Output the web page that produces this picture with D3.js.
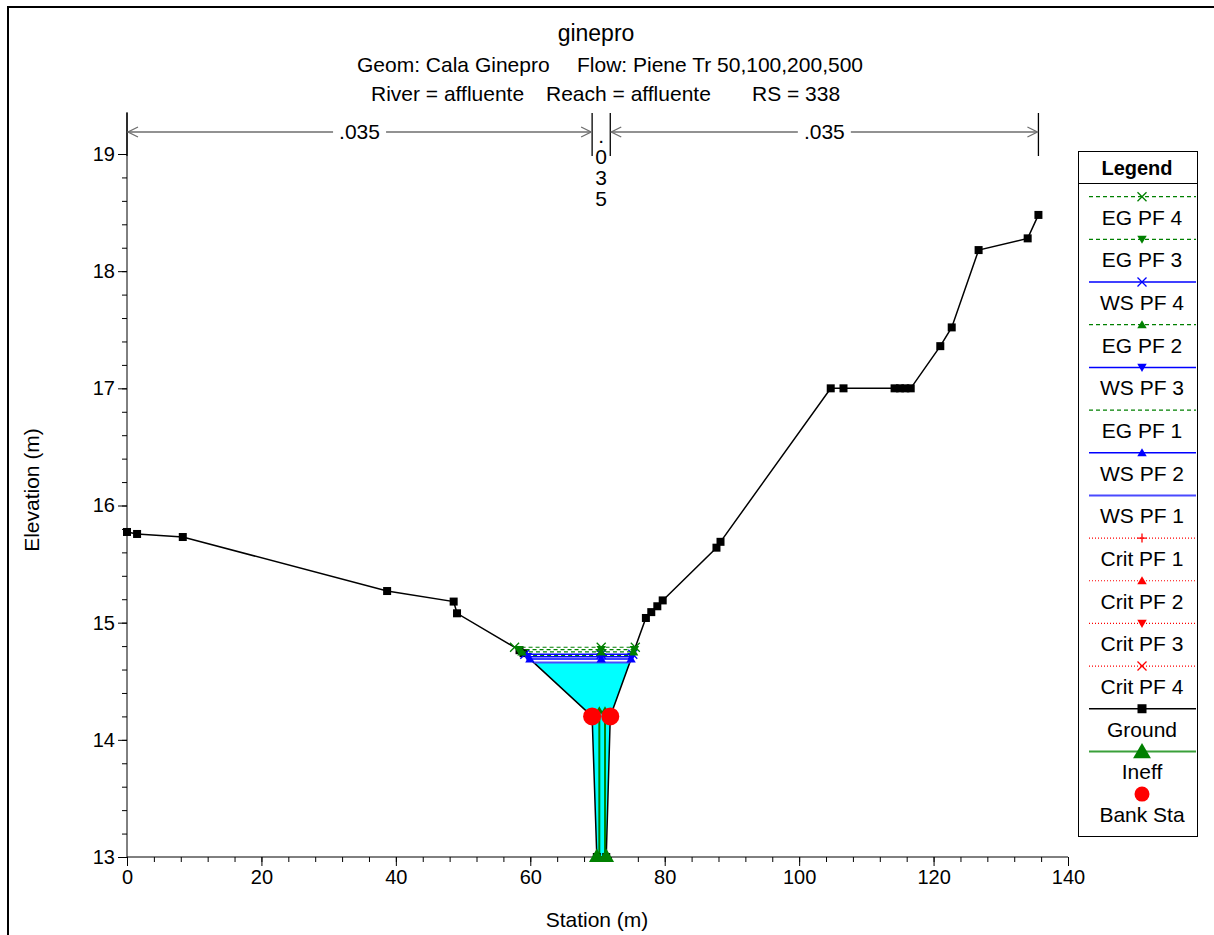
<!DOCTYPE html>
<html><head><meta charset="utf-8">
<script src="https://cdn.jsdelivr.net/npm/d3@7"></script>
<style>body{margin:0;background:#fff}svg{display:block}text{font-family:"Liberation Sans",Arial,sans-serif;fill:#000}</style>
</head><body><svg id="c" width="1214" height="935"></svg>
<script>
// ---------------- data ----------------
const groundSta  = [0, 1.5, 8.3, 38.7, 48.6, 49.1, 58.4, 59.0, 69.2, 69.9, 71.3, 71.9, 77.2, 78.0, 78.9, 79.7, 87.7, 88.3, 104.7, 106.6, 114.2, 115.0, 115.8, 116.6, 121.0, 122.7, 126.7, 134.0, 135.6];
const groundElev = [15.774, 15.757, 15.731, 15.27, 15.18, 15.08, 14.765, 14.74, 14.2, 13.0, 13.0, 14.2, 15.04, 15.09, 15.14, 15.19, 15.64, 15.69, 17.0, 17.0, 17.0, 17.0, 17.0, 17.0, 17.36, 17.52, 18.18, 18.28, 18.48];
const bankSta  = [69.2, 71.9];
const bankElev = [14.2, 14.2];
const profileNames = ["WS PF 1", "WS PF 2", "EG PF 1", "WS PF 3", "WS PF 4", "EG PF 2", "EG PF 3", "EG PF 4"];
const profileElev  = [14.66, 14.69, 14.72, 14.71, 14.73, 14.75, 14.77, 14.79];
const ineffSta  = [69.9, 71.3];
const ineffElev = [13.0, 13.0];
const ineffWallSta = [70.27, 71.12];
const ineffWallTop = [14.26, 14.26];
const nValueLabels = [".035", ".035", ".035"];
const nBreakSta = [0, 69.2, 71.9, 135.6];
const xTicks = [0, 20, 40, 60, 80, 100, 120, 140];
const yTicks = [13, 14, 15, 16, 17, 18, 19];
const legendNames = ["EG PF 4", "EG PF 3", "WS PF 4", "EG PF 2", "WS PF 3", "EG PF 1", "WS PF 2", "WS PF 1", "Crit PF 1", "Crit PF 2", "Crit PF 3", "Crit PF 4", "Ground", "Ineff", "Bank Sta"];
const titleText = "ginepro";
const subtitle1 = ["Geom: Cala Ginepro", "Flow: Piene Tr 50,100,200,500"];
const subtitle2 = ["River = affluente", "Reach = affluente", "RS = 338"];
const xLabel = "Station (m)";
const yLabel = "Elevation (m)";

// ---------------- styles ----------------
const GREEN = "#008000", BLUE = "#0000ff", RED = "#ff0000";
const styles = {
  "EG PF 4": {color: GREEN, dash: "4,3", w: 1.2, marker: "x"},
  "EG PF 3": {color: GREEN, dash: "4,3", w: 1.2, marker: "down"},
  "WS PF 4": {color: BLUE, dash: null, w: 1.5, marker: "x"},
  "EG PF 2": {color: GREEN, dash: "4,3", w: 1.2, marker: "up"},
  "WS PF 3": {color: BLUE, dash: null, w: 1.5, marker: "down"},
  "EG PF 1": {color: GREEN, dash: "4,3", w: 1.2, marker: null},
  "WS PF 2": {color: BLUE, dash: null, w: 1.5, marker: "up"},
  "WS PF 1": {color: "#4a4aff", dash: null, w: 2, marker: null},
  "Crit PF 1": {color: RED, dash: "1,2", w: 1.2, marker: "plus"},
  "Crit PF 2": {color: RED, dash: "1,2", w: 1.2, marker: "up"},
  "Crit PF 3": {color: RED, dash: "1,2", w: 1.2, marker: "down"},
  "Crit PF 4": {color: RED, dash: "1,2", w: 1.2, marker: "x"},
  "Ground": {color: "#000", dash: null, w: 1.5, marker: "square", mcolor: "#000"},
  "Ineff": {color: "#3aa03a", dash: null, w: 2, marker: "bigup", mcolor: GREEN},
  "Bank Sta": {color: null, marker: "circle", mcolor: RED}
};

const svg = d3.select("#c");
const FONT = 20, BIG = 21;
svg.append("rect").attr("width", 1214).attr("height", 935).attr("fill", "#fff");
svg.append("rect").attr("x", 8).attr("y", 7).attr("width", 1230).attr("height", 960)
   .attr("fill", "none").attr("stroke", "#000").attr("stroke-width", 2);

const x = d3.scaleLinear().domain([0, 140]).range([127, 1068]);
const y = d3.scaleLinear().domain([13, 19]).range([857, 154]);

function drawMarker(g, type, cx, cy, color, s) {
  if (!type) return;
  if (type === "x") {
    g.append("path").attr("d", `M${cx-s},${cy-s}L${cx+s},${cy+s}M${cx-s},${cy+s}L${cx+s},${cy-s}`)
      .attr("stroke", color).attr("stroke-width", 1.3).attr("fill", "none");
  } else if (type === "plus") {
    g.append("path").attr("d", `M${cx-s},${cy}L${cx+s},${cy}M${cx},${cy-s}L${cx},${cy+s}`)
      .attr("stroke", color).attr("stroke-width", 1.3).attr("fill", "none");
  } else if (type === "up" || type === "bigup") {
    g.append("path").attr("d", `M${cx},${cy-s}L${cx+s*1.05},${cy+s*0.8}L${cx-s*1.05},${cy+s*0.8}Z`).attr("fill", color);
  } else if (type === "down") {
    g.append("path").attr("d", `M${cx},${cy+s}L${cx+s*1.05},${cy-s*0.8}L${cx-s*1.05},${cy-s*0.8}Z`).attr("fill", color);
  } else if (type === "square") {
    g.append("rect").attr("x", cx-s).attr("y", cy-s).attr("width", 2*s).attr("height", 2*s).attr("fill", color);
  } else if (type === "circle") {
    g.append("circle").attr("cx", cx).attr("cy", cy).attr("r", s).attr("fill", color);
  }
}

// ---------------- titles ----------------
svg.append("text").attr("x", 596).attr("y", 41).attr("text-anchor", "middle").attr("font-size", 23).text(titleText);
const st1 = svg.append("text").attr("y", 72).attr("font-size", BIG);
st1.append("tspan").attr("x", 357).text(subtitle1[0]);
st1.append("tspan").attr("x", 577).text(subtitle1[1]);
const st2 = svg.append("text").attr("y", 101).attr("font-size", BIG);
st2.append("tspan").attr("x", 371).text(subtitle2[0]);
st2.append("tspan").attr("x", 546).text(subtitle2[1]);
st2.append("tspan").attr("x", 752).text(subtitle2[2]);

// ---------------- axes ----------------
const axG = svg.append("g");
const yMinor = d3.range(13, 19.001, 0.2);
const xMinor = d3.range(0, 140.001, 4);
axG.append("g").attr("transform", "translate(127,0)")
  .call(d3.axisLeft(y).tickValues(yMinor).tickSize(5).tickFormat(""))
  .call(g => g.select(".domain").remove());
axG.append("g").attr("transform", "translate(127,0)")
  .call(d3.axisLeft(y).tickValues(yTicks).tickSize(9).tickPadding(3).tickFormat(d3.format("d")))
  .call(g => g.select(".domain").remove())
  .call(g => g.selectAll("text").attr("font-size", FONT).attr("font-family", "Liberation Sans, Arial, sans-serif").attr("fill", "#000"));
axG.append("g").attr("transform", "translate(0,857)")
  .call(d3.axisBottom(x).tickValues(xMinor).tickSize(5).tickFormat(""))
  .call(g => g.select(".domain").remove());
axG.append("g").attr("transform", "translate(0,857)")
  .call(d3.axisBottom(x).tickValues(xTicks).tickSize(9).tickPadding(4).tickFormat(d3.format("d")))
  .call(g => g.select(".domain").remove())
  .call(g => g.selectAll("text").attr("font-size", FONT).attr("font-family", "Liberation Sans, Arial, sans-serif").attr("fill", "#000"));
axG.selectAll("line").attr("stroke", "#000");
axG.append("line").attr("x1", 127).attr("x2", 127).attr("y1", 112).attr("y2", 857).attr("stroke", "#000");
axG.append("line").attr("x1", 127).attr("x2", 1068).attr("y1", 857).attr("y2", 857).attr("stroke", "#000");

svg.append("text").attr("x", 597).attr("y", 927).attr("text-anchor", "middle").attr("font-size", BIG).text(xLabel);
svg.append("text").attr("transform", "translate(39,490) rotate(-90)").attr("text-anchor", "middle").attr("font-size", BIG).text(yLabel);

// ---------------- Manning's n ----------------
const nG = svg.append("g");
const nY = 132;
nBreakSta.forEach(s => {
  nG.append("line").attr("x1", x(s)).attr("x2", x(s)).attr("y1", 113).attr("y2", 156).attr("stroke", "#000").attr("stroke-width", 1.3);
});
for (let i = 0; i < nValueLabels.length; i++) {
  const x0 = x(nBreakSta[i]), x1 = x(nBreakSta[i+1]);
  const cx = (x0 + x1) / 2;
  if (x1 - x0 > 60) {
    const tw = 41, gap = 6;
    const col = "#6e6e6e";
    nG.append("line").attr("x1", x0 + 1).attr("x2", cx - tw/2 - gap).attr("y1", nY).attr("y2", nY).attr("stroke", col).attr("stroke-width", 1.5);
    nG.append("line").attr("x1", cx + tw/2 + gap).attr("x2", x1 - 1).attr("y1", nY).attr("y2", nY).attr("stroke", col).attr("stroke-width", 1.5);
    nG.append("path").attr("d", `M${x0+11},${nY-5}L${x0+1},${nY}L${x0+11},${nY+5}`).attr("stroke", col).attr("stroke-width", 1.3).attr("fill", "none");
    nG.append("path").attr("d", `M${x1-11},${nY-5}L${x1-1},${nY}L${x1-11},${nY+5}`).attr("stroke", col).attr("stroke-width", 1.3).attr("fill", "none");
    nG.append("text").attr("x", cx).attr("y", nY + 7).attr("text-anchor", "middle").attr("font-size", BIG).text(nValueLabels[i]);
  } else {
    nValueLabels[i].split("").forEach((ch, k) => {
      nG.append("text").attr("x", cx).attr("y", 143 + k * 21).attr("text-anchor", "middle").attr("font-size", BIG).text(ch);
    });
  }
}

// ---------------- plot ----------------
const ground = groundSta.map((s, i) => [s, groundElev[i]]);
const cIdx = groundElev.indexOf(d3.min(groundElev));
function extent(level) {
  let l = null, r = null;
  for (let i = cIdx; i > 0; i--) {
    if (groundElev[i-1] >= level && groundElev[i] < level) {
      const t = (level - groundElev[i]) / (groundElev[i-1] - groundElev[i]);
      l = groundSta[i] + t * (groundSta[i-1] - groundSta[i]); break;
    }
  }
  for (let i = cIdx; i < groundSta.length - 1; i++) {
    if (groundElev[i+1] >= level && groundElev[i] < level) {
      const t = (level - groundElev[i]) / (groundElev[i+1] - groundElev[i]);
      r = groundSta[i] + t * (groundSta[i+1] - groundSta[i]); break;
    }
  }
  return [l, r];
}
const pg = svg.append("g");
const line = d3.line().x(d => x(d[0])).y(d => y(d[1]));

// water fill under lowest water surface
const wsLevel = profileElev[profileNames.indexOf("WS PF 1")];
const [fl, fr] = extent(wsLevel);
const fillPts = [[fl, wsLevel]].concat(ground.filter(d => d[0] > fl && d[0] < fr), [[fr, wsLevel]]);
pg.append("path").attr("d", line(fillPts) + "Z").attr("fill", "#00ffff");

// ineffective walls
ineffWallSta.forEach((s, i) => {
  pg.append("line").attr("x1", x(s)).attr("x2", x(s)).attr("y1", y(13)).attr("y2", y(ineffWallTop[i]))
    .attr("stroke", GREEN).attr("stroke-width", 2);
  drawMarker(pg, "up", x(s), y(ineffWallTop[i]) + 1, GREEN, 4);
});

// ground
pg.append("path").attr("d", line(ground)).attr("fill", "none").attr("stroke", "#000").attr("stroke-width", 1.5);
ground.forEach(d => drawMarker(pg, "square", x(d[0]), y(d[1]), "#000", 4));

// profiles
const midSta = (bankSta[0] + bankSta[1]) / 2;
profileNames.forEach((n, i) => {
  const st = styles[n], lev = profileElev[i];
  const [l, r] = extent(lev);
  const ln = pg.append("line").attr("x1", x(l)).attr("x2", x(r)).attr("y1", y(lev)).attr("y2", y(lev))
    .attr("stroke", st.color).attr("stroke-width", st.w);
  if (st.dash) ln.attr("stroke-dasharray", st.dash);
  [l, midSta, r].forEach(s => drawMarker(pg, st.marker, x(s), y(lev), st.color, 4.5));
});

// ineff and bank stations
ineffSta.forEach((s, i) => drawMarker(pg, "bigup", x(s), y(ineffElev[i]) - 1, GREEN, 7.5));
bankSta.forEach((s, i) => drawMarker(pg, "circle", x(s), y(bankElev[i]), RED, 9));

// ---------------- legend ----------------
const lg = svg.append("g");
lg.append("rect").attr("x", 1078.5).attr("y", 151.5).attr("width", 119).attr("height", 685)
  .attr("fill", "#fff").attr("stroke", "#000").attr("stroke-width", 1);
lg.append("text").attr("x", 1137).attr("y", 175).attr("text-anchor", "middle").attr("font-size", 20).attr("font-weight", "bold").text("Legend");
lg.append("line").attr("x1", 1078).attr("x2", 1198).attr("y1", 183.5).attr("y2", 183.5).attr("stroke", "#000");
legendNames.forEach((n, i) => {
  const st = styles[n];
  const ly = 196.7 + i * 42.67;
  if (st.color) {
    const ln = lg.append("line").attr("x1", 1089).attr("x2", 1196).attr("y1", ly).attr("y2", ly)
      .attr("stroke", st.color).attr("stroke-width", st.w);
    if (st.dash) ln.attr("stroke-dasharray", st.dash);
  }
  const mc = st.mcolor || st.color;
  const ms = st.marker === "bigup" ? 8.5 : st.marker === "circle" ? 7.5 : 4.5;
  drawMarker(lg, st.marker, 1142, ly, mc, ms);
  lg.append("text").attr("x", 1142).attr("y", ly + 28).attr("text-anchor", "middle").attr("font-size", BIG).text(n);
});
</script></body></html>
